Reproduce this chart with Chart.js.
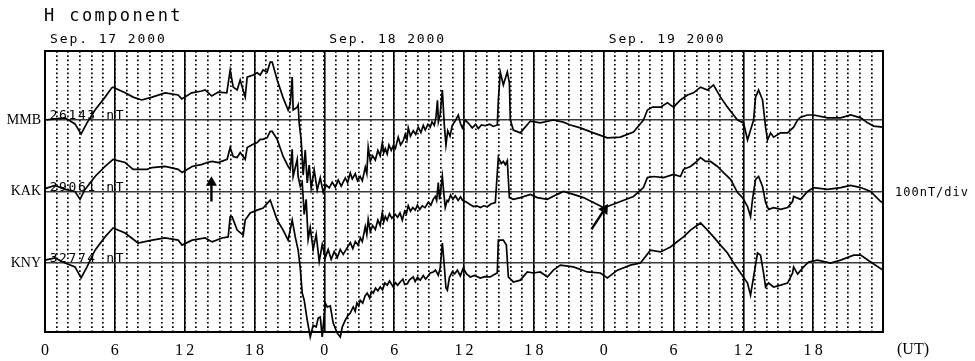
<!DOCTYPE html>
<html>
<head>
<meta charset="utf-8">
<title>H component</title>
<script src="https://cdn.jsdelivr.net/npm/chart.js@4.4.1/dist/chart.umd.min.js"></script>
<style>
  html, body { margin: 0; padding: 0; background: #fff; }
  canvas { display: block; }
</style>
</head>
<body>
<canvas id="magChart" width="975" height="361"></canvas>
<script>
// ===== Data =====
const titleText = 'H component';
const stations = ['MMB', 'KAK', 'KNY'];
const baseValues = ['26143 nT', '29061 nT', '32774 nT'];
const stationOffsets = [0, -200, -400];          // nT, baseline of each trace
const dayLabels = ['Sep. 17 2000', 'Sep. 18 2000', 'Sep. 19 2000'];
const hourTicks = [0, 6, 12, 18, 24, 30, 36, 42, 48, 54, 60, 66, 72];
const hourLabels = ['0', '6', '12', '18', '0', '6', '12', '18', '0', '6', '12', '18', ''];
const unitLabel = '(UT)';
const scaleLabel = '100nT/div';

// [hour, nT from baseline]
const mmbTrace = [
  [0,0],[0.86,3],[1.72,6],[2.58,-11],[3.1,-39],[3.61,-8],[4.3,28],[5.16,64],[5.74,90],[5.85,92],
  [6.88,76],[7.57,64],[8.31,56],[9.2,64],[10.32,76],[11.44,70],[11.75,59],[12.61,76],[13.47,81],[13.76,84],
  [14.33,67],[14.88,78],[15.62,76],[15.91,140],[16.17,92],[16.51,84],[16.77,112],[17.2,64],[17.37,120],[17.88,126],
  [18.23,132],[18.49,126],[18.74,140],[19.09,134],[19.35,162],[19.52,162],[19.95,112],[20.46,62],[20.89,28],[21.07,45],
  [21.24,120],[21.32,28],[21.67,36],[21.75,42],[21.84,-8],[22.01,-56],[22.18,-154],[22.36,-84],[22.53,-176],[22.7,-126],
  [22.87,-190],[23.13,-140],[23.39,-196],[23.65,-162],[23.9,-202],[24.16,-182],[24.42,-190],[24.68,-174],[24.94,-188],[25.19,-168],
  [25.45,-185],[25.8,-162],[26.0,-175],[26.23,-148],[26.4,-165],[26.66,-150],[26.85,-170],[27.08,-158],[27.26,-170],[27.4,-150],
  [27.52,-132],[27.65,-150],[27.77,-76],[27.95,-115],[28.15,-100],[28.38,-112],[28.6,-85],[28.8,-100],[28.98,-64],[29.1,-92],
  [29.24,-80],[29.4,-95],[29.55,-70],[29.75,-85],[29.92,-72],[30.1,-80],[30.35,-48],[30.55,-70],[30.78,-58],[30.95,-40],
  [31.1,-55],[31.21,-22],[31.4,-45],[31.64,-30],[31.85,-40],[32.07,-20],[32.3,-35],[32.5,-15],[32.67,-28],[32.9,-12],
  [33.1,-20],[33.25,-5],[33.45,-15],[33.6,10],[33.72,55],[33.8,-5],[33.95,15],[34.14,84],[34.3,-10],[34.45,-70],
  [34.6,-30],[34.8,-45],[34.99,-15],[35.2,-5],[35.51,14],[35.7,-10],[35.86,-22],[36.11,0],[36.4,-10],[36.71,-22],
  [37.0,-12],[37.23,-24],[37.5,-14],[37.83,-16],[38.2,-12],[38.52,-18],[38.86,-14],[38.95,56],[39.12,134],[39.38,98],
  [39.72,134],[39.9,104],[39.98,0],[40.24,-28],[40.84,-36],[41.7,-3],[42.56,-8],[43.68,0],[44.54,-6],[45.14,-14],
  [46.0,-22],[47.12,-36],[48.32,-50],[49.44,-48],[50.56,-34],[51.42,0],[51.76,28],[52.19,36],[52.88,36],[53.48,48],
  [54.0,36],[54.6,56],[55.2,70],[55.72,76],[56.32,92],[56.92,84],[57.44,98],[58.04,64],[58.64,36],[59.16,14],
  [59.5,0],[60.02,-8],[60.36,-56],[60.62,-28],[60.88,0],[61.05,64],[61.31,84],[61.65,56],[61.91,-20],[62.08,-56],
  [62.34,-36],[62.6,-48],[63.2,-36],[63.8,-36],[64.32,-20],[64.66,0],[64.92,8],[65.52,14],[66.04,14],[67.24,6],
  [68.36,6],[69.22,14],[70.08,6],[70.68,-8],[71.2,-17],[72,-20]
];

const kakTrace = [
  [0,8],[0.86,17],[1.72,6],[2.58,0],[3.01,-22],[3.44,6],[4.3,42],[5.16,70],[5.85,90],[6.88,81],
  [7.57,62],[8.0,62],[8.77,62],[9.2,67],[10.32,70],[11.44,62],[11.78,53],[12.64,70],[13.5,76],[13.93,81],
  [14.36,84],[14.88,81],[15.65,90],[15.91,123],[16.17,98],[16.51,95],[16.77,109],[17.2,90],[17.37,123],[17.88,132],
  [18.23,137],[18.49,146],[18.74,146],[19.09,151],[19.35,168],[19.52,168],[19.95,146],[20.46,98],[20.89,70],[21.07,62],
  [21.24,118],[21.32,42],[21.67,90],[21.75,42],[21.93,14],[22.1,25],[22.27,-64],[22.44,-22],[22.61,-134],[22.79,-101],
  [23.04,-162],[23.3,-120],[23.56,-196],[23.82,-148],[24.08,-185],[24.33,-162],[24.59,-190],[24.85,-168],[25.11,-185],[25.37,-162],
  [25.62,-176],[25.97,-157],[26.23,-143],[26.45,-160],[26.66,-140],[26.9,-150],[27.1,-130],[27.26,-140],[27.52,-98],[27.65,-120],
  [27.77,-78],[27.95,-112],[28.15,-95],[28.38,-106],[28.6,-80],[28.8,-95],[28.98,-59],[29.1,-85],[29.24,-70],[29.4,-80],
  [29.6,-62],[29.8,-75],[30.09,-64],[30.3,-72],[30.5,-60],[30.7,-80],[30.9,-55],[31.05,-62],[31.21,-40],[31.4,-55],
  [31.6,-45],[31.81,-52],[32.0,-38],[32.2,-50],[32.42,-40],[32.65,-45],[32.93,-30],[33.15,-38],[33.35,-22],[33.53,-14],
  [33.65,-25],[33.79,25],[33.9,-22],[34.14,42],[34.28,-10],[34.39,-45],[34.55,-25],[34.65,-28],[34.85,-10],[35.05,-22],
  [35.25,-12],[35.5,-25],[35.7,-15],[35.86,-24],[36.1,-28],[36.37,-33],[36.6,-38],[36.8,-42],[37.1,-40],[37.4,-45],
  [37.7,-40],[38.0,-43],[38.3,-35],[38.69,-31],[38.95,95],[39.2,78],[39.38,84],[39.55,75],[39.72,86],[39.9,-17],
  [40.24,-22],[40.84,-17],[41.7,-8],[42.3,-17],[43.16,-22],[44.02,-8],[44.54,0],[45.4,-8],[46.26,-17],[47.12,-31],
  [47.98,-45],[48.32,-42],[49.44,-28],[50.56,-14],[51.42,11],[51.76,39],[52.28,42],[53.14,39],[54.0,48],[54.6,42],
  [54.86,62],[55.46,70],[55.89,81],[56.32,95],[56.75,84],[57.18,84],[57.78,70],[58.3,53],[58.9,34],[59.5,-3],
  [59.93,-17],[60.36,-42],[60.62,-70],[60.79,-22],[61.05,34],[61.31,42],[61.65,14],[61.91,-31],[62.17,-50],[62.6,-45],
  [63.2,-50],[63.8,-45],[64.23,-28],[64.32,-14],[64.92,-22],[65.52,0],[66.04,11],[67.24,6],[68.36,11],[69.22,17],
  [70.08,11],[70.94,0],[71.8,-28],[72,-31]
];

const knyTrace = [
  [0,8],[0.86,14],[1.72,0],[2.58,-11],[3.1,-42],[3.61,-11],[4.3,36],[5.16,73],[5.85,98],[6.88,84],
  [8.0,56],[9.2,64],[10.32,70],[11.44,64],[11.78,50],[12.64,64],[13.76,70],[14.36,59],[15.22,70],[15.74,73],
  [15.91,129],[16.08,129],[16.51,92],[17.03,78],[17.2,120],[17.63,140],[18.23,148],[18.74,154],[19.35,176],[19.95,120],
  [20.46,92],[20.89,64],[21.24,120],[21.5,73],[21.75,36],[21.93,-14],[22.1,-84],[22.27,-104],[22.53,-160],[22.79,-207],
  [23.04,-174],[23.3,-179],[23.47,-154],[23.65,-151],[23.82,-207],[24.08,-112],[24.25,-123],[24.51,-120],[24.76,-168],[25.11,-196],
  [25.37,-207],[25.54,-179],[25.8,-160],[26.0,-148],[26.23,-140],[26.4,-128],[26.48,-123],[26.65,-135],[26.8,-112],[26.95,-120],
  [27.08,-104],[27.3,-112],[27.5,-92],[27.69,-84],[27.9,-98],[28.05,-80],[28.2,-84],[28.4,-70],[28.6,-78],[28.8,-67],
  [29.0,-75],[29.2,-56],[29.41,-62],[29.6,-50],[29.92,-67],[30.1,-55],[30.3,-62],[30.52,-53],[30.75,-45],[30.9,-60],
  [31.13,-58],[31.3,-48],[31.64,-39],[31.8,-52],[32.0,-40],[32.24,-48],[32.5,-35],[32.7,-45],[32.85,-39],[33.1,-28],
  [33.36,-25],[33.55,-20],[33.79,-34],[33.95,-15],[34.14,56],[34.3,-5],[34.45,-70],[34.57,-76],[34.75,-40],[34.99,-25],
  [35.2,-30],[35.43,-20],[35.68,-36],[35.94,-14],[36.2,-30],[36.54,-39],[36.9,-35],[37.4,-42],[37.8,-38],[38.26,-39],
  [38.6,-32],[38.86,-28],[38.95,64],[39.38,64],[39.64,50],[39.81,-39],[40.24,-53],[40.84,-48],[41.44,-25],[41.96,-28],
  [42.56,-25],[43.16,-39],[43.68,-20],[44.28,-6],[45.4,-11],[46.6,-25],[47.72,-28],[48.32,-42],[49.18,-20],[50.3,-6],
  [51.16,0],[52.02,36],[52.88,31],[53.74,45],[54.17,56],[54.86,73],[55.46,92],[56.32,112],[56.92,92],[57.44,73],
  [58.04,50],[58.64,28],[59.16,0],[59.76,-28],[60.36,-56],[60.62,-90],[60.88,-39],[61.22,28],[61.48,22],[61.74,-28],
  [61.91,-67],[62.17,-56],[62.6,-67],[63.2,-62],[63.8,-56],[64.23,-28],[64.32,-11],[64.66,-31],[65.18,-11],[65.61,3],
  [66.38,8],[67.5,0],[68.36,8],[69.48,22],[70.08,22],[70.94,3],[72,-20]
];

// small arrows drawn on the KAK trace: [hour, nT from KAK baseline], tip last
const arrowSsc = [[14.3,-28],[14.3,25]];
const arrowDay3 = [[46.95,-106],[48.07,-50]];
const arrowRotations = [0, 33];

const traces = [mmbTrace, kakTrace, knyTrace];

// ===== Helpers =====
function toPoints(trace, offset) {
  return trace.map(([h, v]) => ({ x: h, y: v + offset }));
}

function arrowDataset(trace, rotation) {
  return {
    data: toPoints(trace, stationOffsets[1]),
    borderColor: '#000',
    backgroundColor: '#000',
    borderWidth: 2.4,
    pointStyle: 'triangle',
    pointRadius: [0, 4],
    pointRotation: rotation,
    clip: false
  };
}

// ===== Text + frame plugin =====
const magnetoText = {
  id: 'magnetoText',
  beforeDatasetsDraw(chart) {
    const { ctx, scales: { x, y } } = chart;
    ctx.save();
    ctx.fillStyle = '#000';
    ctx.font = '13px "DejaVu Sans Mono"';
    ctx.letterSpacing = '1.6px';
    ctx.textBaseline = 'alphabetic';
    baseValues.forEach((txt, i) => {
      ctx.fillText(txt, x.getPixelForValue(0.4), y.getPixelForValue(stationOffsets[i]) - 1);
    });
    ctx.restore();
  },
  afterDraw(chart) {
    const { ctx, chartArea: a, scales: { x, y } } = chart;
    ctx.save();
    ctx.strokeStyle = '#000';
    ctx.lineWidth = 2;
    ctx.strokeRect(a.left, a.top, a.right - a.left, a.bottom - a.top);

    ctx.fillStyle = '#000';
    ctx.textBaseline = 'alphabetic';
    ctx.font = '17px "DejaVu Sans Mono"';
    ctx.letterSpacing = '2.4px';
    ctx.fillText(titleText, 44, 21);

    ctx.font = '13px "DejaVu Sans Mono"';
    ctx.letterSpacing = '1.9px';
    dayLabels.forEach((txt, d) => {
      ctx.fillText(txt, x.getPixelForValue(d * 24) + 5, 43);
    });

    ctx.font = '12px "DejaVu Sans Mono"';
    ctx.letterSpacing = '1px';
    ctx.fillText(scaleLabel, a.right + 12, y.getPixelForValue(stationOffsets[1]) + 4);

    ctx.letterSpacing = '0px';
    ctx.font = '16px "Liberation Serif"';
    ctx.fillText(unitLabel, a.right + 14, 354);
    ctx.restore();
  }
};

// ===== Chart =====
function initChart() {
  const ctx = document.getElementById('magChart').getContext('2d');

  const datasets = traces.map((trace, i) => ({
    label: stations[i],
    data: toPoints(trace, stationOffsets[i]),
    borderColor: '#000',
    borderWidth: 1.7,
    pointRadius: 0,
    tension: 0,
    clip: false
  }));
  datasets.push(arrowDataset(arrowSsc, arrowRotations[0]));
  datasets.push(arrowDataset(arrowDay3, arrowRotations[1]));

  new Chart(ctx, {
    type: 'line',
    data: { datasets },
    plugins: [magnetoText],
    options: {
      responsive: false,
      animation: false,
      events: [],
      layout: { padding: { top: 51, right: 92, left: 0, bottom: 0 } },
      plugins: {
        legend: { display: false },
        tooltip: { enabled: false }
      },
      scales: {
        x: {
          type: 'linear',
          min: 0,
          max: 72,
          afterBuildTicks: scale => { scale.ticks = hourTicks.map(v => ({ value: v })); },
          afterFit: scale => { scale.height = 29; },
          ticks: {
            autoSkip: false,
            maxRotation: 0,
            padding: 9,
            color: '#000',
            font: { family: 'Liberation Serif', size: 16 },
            callback: (value, index) => hourLabels[index].split('').join('\u2009')
          },
          grid: { color: '#000', lineWidth: 1.6, drawTicks: false },
          border: { display: false }
        },
        xMinor: {
          type: 'linear',
          position: 'bottom',
          min: 0,
          max: 72,
          afterFit: scale => { scale.height = 0; },
          ticks: { display: false, stepSize: 1 },
          grid: { color: '#000', lineWidth: 1.7, drawTicks: false },
          border: { display: false, dash: [1.7, 2.6] }
        },
        y: {
          min: -593,
          max: 193,
          afterBuildTicks: scale => { scale.ticks = stationOffsets.map(v => ({ value: v })); },
          afterFit: scale => { scale.width = 45; },
          ticks: {
            padding: 4,
            color: '#000',
            font: { family: 'Liberation Serif', size: 14 },
            callback: (value, index) => stations[index]
          },
          grid: { color: '#3a3a3a', lineWidth: 1.4, drawTicks: false },
          border: { display: false }
        }
      }
    }
  });
}

document.addEventListener('DOMContentLoaded', initChart);
</script>
</body>
</html>
